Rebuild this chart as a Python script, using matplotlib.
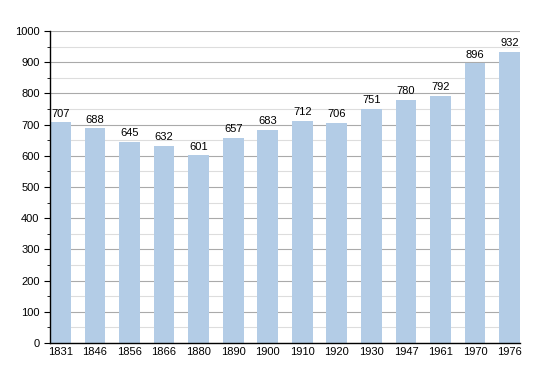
import matplotlib.pyplot as plt
from matplotlib.ticker import MultipleLocator

years = ["1831", "1846", "1856", "1866", "1880", "1890", "1900", "1910",
         "1920", "1930", "1947", "1961", "1970", "1976"]
population = [707, 688, 645, 632, 601, 657, 683, 712, 706, 751, 780, 792, 896, 932]

plt.rcParams['font.family'] = ['Liberation Sans', 'DejaVu Sans']

fig = plt.figure(figsize=(5.5, 3.73), dpi=100)
ax = fig.add_axes([0.0909, 0.0804, 0.8546, 0.8366])

x = range(len(years))
ax.bar(x, population, width=0.6, color="#b3cce6", zorder=2)
for xi, v in zip(x, population):
    ax.text(xi, v + 12, str(v), ha="center", va="bottom", fontsize=8, zorder=3)

ax.set_xlim(-0.3, len(years) - 0.7)
ax.set_ylim(0, 1000)
ax.set_xticks(list(x))
ax.set_xticklabels(years)
ax.yaxis.set_major_locator(MultipleLocator(100))
ax.yaxis.set_minor_locator(MultipleLocator(50))
ax.grid(axis="y", which="major", color="#aaaaaa", linewidth=0.8, zorder=0)
ax.grid(axis="y", which="minor", color="#dddddd", linewidth=0.8, zorder=0)
ax.tick_params(axis="y", which="major", length=4, labelsize=8)
ax.tick_params(axis="y", which="minor", length=2)
ax.tick_params(axis="x", length=0, labelsize=8, pad=3)
for s in ["top", "right"]:
    ax.spines[s].set_visible(False)
ax.spines["left"].set_linewidth(1)
ax.spines["bottom"].set_linewidth(1)

fig.savefig("out.png", dpi=100)
